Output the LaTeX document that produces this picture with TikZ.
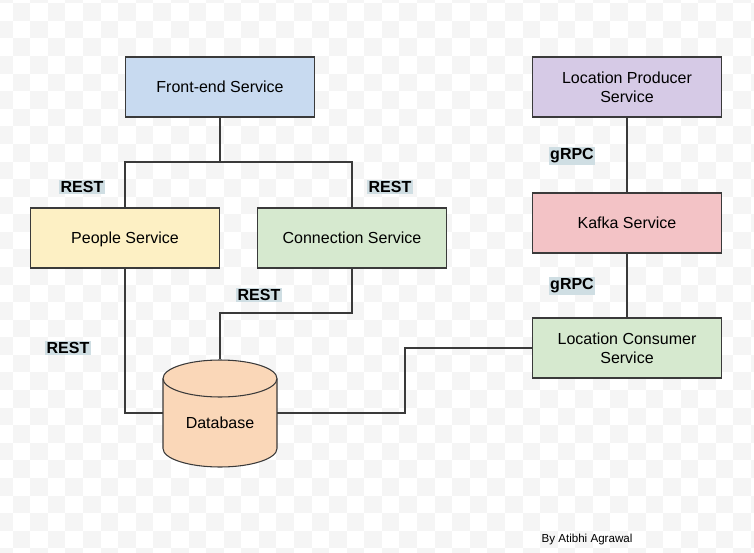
\documentclass[tikz,border=0pt]{standalone}
\usepackage{fontspec}
\setmainfont{Liberation Sans}

\definecolor{lineC}{HTML}{3A3A3A}
\definecolor{checkC}{HTML}{F5F5F5}
\definecolor{blueF}{HTML}{C8DAF0}
\definecolor{yellowF}{HTML}{FDF0C4}
\definecolor{greenF}{HTML}{D6E9CF}
\definecolor{purpleF}{HTML}{D6CAE6}
\definecolor{redF}{HTML}{F3C3C6}
\definecolor{orangeF}{HTML}{FAD7B8}
\definecolor{tagF}{HTML}{CFDEE3}

\tikzset{
  svc/.style={draw=lineC, line width=0.8pt, minimum width=189*0.75pt, minimum height=60*0.75pt,
    align=center, text depth=0pt, font=\fontsize{12}{14}\selectfont},
  tag/.style={fill=tagF, inner sep=1pt, font=\fontsize{12}{13}\selectfont\bfseries},
  wire/.style={draw=lineC, line width=0.8pt}
}

\begin{document}
\begin{tikzpicture}[x=0.75pt, y=-0.75pt]
  \useasboundingbox[fill=white] (0,0) rectangle (754,553);
  % background checks
  \begin{scope}
    \clip (0,0) rectangle (754,553);
    \foreach \i in {0,...,43} {
      \foreach \j in {0,...,32} {
        \ifodd\numexpr\i+\j\relax\else
          \fill[checkC] (-4.88+17.58*\i, -14.28+17.58*\j) rectangle ++(17.58,17.58);
        \fi
      }
    }
  \end{scope}

  \node[svc, fill=blueF]   (front) at (220,87)  {Front-end Service};
  \node[svc, fill=yellowF] (people) at (125,238) {People Service};
  \node[svc, fill=greenF]  (conn) at (352,238)  {Connection Service};
  \node[svc, fill=purpleF] (producer) at (627,87) {Location Producer\\Service};
  \node[svc, fill=redF]    (kafka) at (627,223) {Kafka Service};
  \node[svc, fill=greenF]  (consumer) at (627,348) {Location Consumer\\Service};

  % database cylinder
  \node[minimum width=114*0.75pt, minimum height=107*0.75pt, inner sep=0pt] (db) at (220,413) {};
  \draw[wire, fill=orangeF] (163,378.5) -- (163,448.5) arc (180:0:57 and 18.5)
    -- (277,378.5) arc (0:-180:57 and 18.5) -- cycle;
  \draw[wire] (163,378.5) arc (180:0:57 and 18.5);
  \node[font=\fontsize{12}{14}\selectfont, text depth=0pt] (dbtext) at (220,423) {Database};

  % REST links
  \coordinate (split) at (220,162);
  \draw[wire] (front.south) -- (split);
  \draw[wire] (people.north) |- (split) -| (conn.north);
  \draw[wire] (people.south) |- (db.west);
  \coordinate (bend) at (220,313);
  \draw[wire] (conn.south) |- (bend) -- (db.north);
  \coordinate (mid) at (405,380);
  \draw[wire] (db.east) -| (mid) |- (consumer.west);

  % gRPC links
  \draw[wire] (producer.south) -- (kafka.north);
  \draw[wire] (kafka.south) -- (consumer.north);

  \node[tag] (r1) at (82,187)  {REST};
  \node[tag] (r2) at (390,187) {REST};
  \node[tag] (r3) at (259,295) {REST};
  \node[tag] (r4) at (68,348)  {REST};
  \node[tag] (g1) at (572,156) {gRPC};
  \node[tag] (g2) at (572,286) {gRPC};

  \node[font=\fontsize{8.7}{10}\selectfont] (author) at (587,539) {By Atibhi Agrawal};
\end{tikzpicture}
\end{document}
